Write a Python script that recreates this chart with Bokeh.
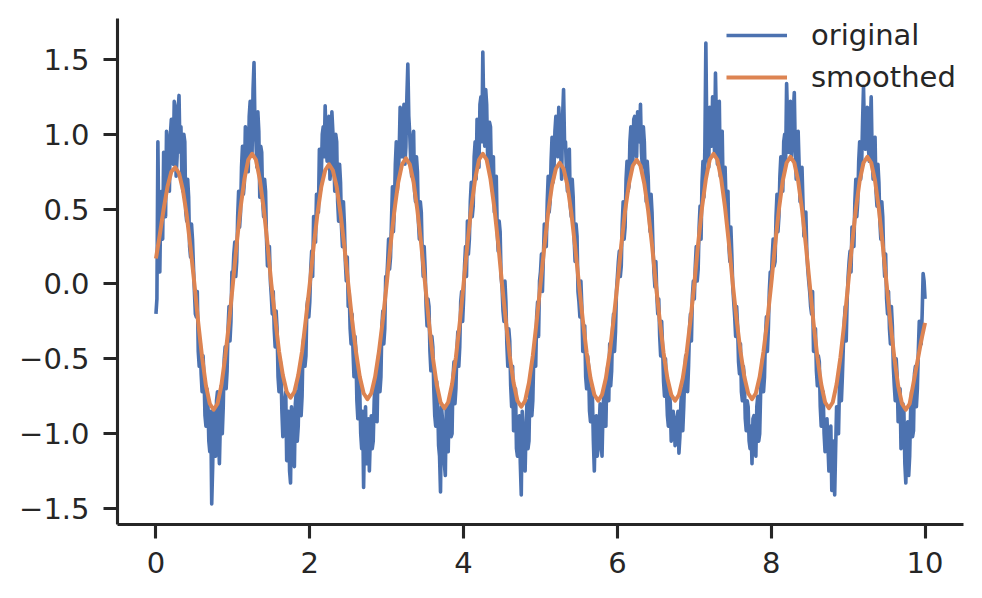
import numpy as np
from bokeh.plotting import figure
from bokeh.models import Range1d, FixedTicker, Legend, LegendItem
from bokeh.embed import file_html
from bokeh.resources import INLINE

# noisy signal: samples at x = 0, 0.025, ..., 10
y_original_on_grid = [
    -0.20, 0.95, 0.08, 0.62, 0.88, 0.45, 0.92, 0.62, 1.10, 0.80, 1.18, 0.85, 1.26, 1.05, 0.62, 0.95, 0.42, 0.58, 0.18, 0.30,
    -0.05, -0.22, -0.45, -0.38, -0.72, -0.62, -0.95, -0.78, -1.12, -1.47, -0.85, -1.15, -0.72, -1.20, -0.68, -0.82, -0.42, -0.58, -0.15, -0.25,
    0.05, 0.28, 0.15, 0.62, 0.48, 0.92, 0.68, 1.02, 0.75, 1.22, 0.88, 1.48, 0.95, 1.15, 0.58, 0.88, 0.45, 0.62, 0.12, 0.25,
    -0.08, -0.05, -0.42, -0.30, -0.72, -0.55, -1.02, -0.78, -1.18, -0.85, -1.33, -0.90, -1.22, -0.72, -0.95, -0.55, -0.75, -0.35, -0.48, -0.10,
    -0.12, 0.22, 0.45, 0.28, 0.55, 0.90, 0.72, 1.05, 1.19, 0.82, 1.12, 0.78, 1.02, 0.62, 0.95, 0.42, 0.68, 0.25, 0.40, 0.02,
    -0.15, -0.30, -0.20, -0.62, -0.45, -0.90, -0.72, -1.10, -1.36, -0.82, -1.15, -1.25, -0.88, -1.05, -0.65, -0.92, -0.45, -0.62, -0.18, -0.30,
    0.02, 0.30, 0.18, 0.65, 0.50, 0.95, 0.70, 1.18, 0.85, 1.20, 0.92, 1.47, 1.00, 0.72, 1.02, 0.55, 0.75, 0.30, 0.48, 0.05,
    0.10, -0.28, -0.15, -0.58, -0.42, -0.88, -0.65, -1.08, -1.39, -0.90, -1.20, -0.82, -1.12, -0.75, -1.00, -0.52, -0.70, -0.32, -0.42, -0.05,
    -0.10, 0.25, 0.42, 0.30, 0.68, 0.52, 0.95, 1.10, 0.78, 1.25, 1.55, 0.92, 1.20, 0.80, 1.05, 0.62, 0.48, 0.72, 0.22, 0.35,
    -0.02, -0.25, -0.12, -0.55, -0.38, -0.82, -0.98, -0.70, -1.15, -0.88, -1.41, -1.02, -1.25, -0.78, -1.05, -0.60, -0.78, -0.40, -0.22, -0.35,
    0.08, -0.05, 0.40, 0.25, 0.72, 0.55, 0.98, 0.75, 1.12, 0.85, 1.05, 0.70, 1.30, 0.95, 0.62, 0.90, 0.45, 0.58, 0.15, 0.32,
    -0.12, 0.02, -0.45, -0.28, -0.70, -0.55, -0.92, -0.75, -1.25, -0.88, -1.10, -0.80, -1.15, -0.72, -0.95, -0.55, -0.40, -0.58, -0.20, -0.32,
    0.05, 0.22, 0.12, 0.55, 0.38, 0.82, 0.65, 1.05, 0.80, 1.12, 0.85, 1.02, 1.20, 0.78, 0.95, 0.55, 0.72, 0.35, 0.48, 0.08,
    0.15, -0.20, -0.35, -0.25, -0.65, -0.50, -0.88, -0.70, -1.05, -0.85, -1.08, -0.90, -1.13, -0.80, -0.98, -0.62, -0.50, -0.55, -0.20, -0.08,
    -0.10, 0.25, 0.10, 0.52, 0.68, 0.58, 1.61, 0.85, 1.18, 0.92, 1.20, 1.41, 0.80, 1.22, 0.95, 0.62, 0.78, 0.40, 0.25, 0.38,
    -0.02, -0.22, -0.15, -0.52, -0.40, -0.78, -0.62, -0.98, -0.82, -1.10, -1.20, -0.88, -1.15, -0.75, -1.00, -0.58, -0.72, -0.35, -0.45, -0.05,
    0.02, 0.30, 0.15, 0.60, 0.45, 0.85, 0.62, 1.00, 1.34, 0.88, 1.22, 0.95, 1.28, 0.70, 1.02, 0.55, 0.78, 0.32, 0.48, 0.10,
    -0.05, -0.20, -0.45, -0.30, -0.68, -0.52, -0.95, -0.72, -1.12, -0.90, -1.25, -0.95, -1.30, -1.41, -0.82, -1.00, -0.55, -0.62, -0.25, -0.38,
    0.05, 0.22, 0.38, 0.25, 0.70, 0.55, 0.95, 0.78, 1.32, 0.90, 1.18, 0.82, 1.25, 0.70, 0.98, 0.52, 0.68, 0.30, 0.45, 0.05,
    -0.10, -0.05, -0.40, -0.28, -0.68, -0.50, -0.92, -0.70, -1.05, -0.85, -1.33, -0.92, -1.15, -0.72, -0.98, -0.55, -0.70, -0.25, -0.40, 0.07,
    -0.10,
]

# noisy signal: samples half-way between the ones above
y_original_between = [
    -0.10, 0.35, 0.52, 0.30, 0.70, 1.02, 0.70, 1.00, 0.82, 1.22, 0.72, 1.15, 0.88, 0.70, 1.00, 0.48, 0.70, 0.25, 0.40, 0.12,
    -0.20, -0.05, -0.55, -0.60, -0.48, -0.88, -0.70, -1.05, -0.85, -1.22, -1.08, -0.78, -1.02, -0.92, -1.00, -0.50, -0.70, -0.30, -0.38, 0.08,
    0.20, 0.05, 0.45, 0.38, 0.78, 0.60, 1.05, 0.80, 1.12, 0.90, 1.30, 1.05, 0.78, 1.02, 0.92, 0.55, 0.70, 0.30, 0.18, 0.02,
    -0.20, -0.30, -0.18, -0.62, -0.50, -0.85, -0.98, -0.72, -1.10, -1.25, -0.82, -1.12, -0.80, -1.05, -0.62, -0.88, -0.40, -0.55, -0.15, -0.22,
    0.10, 0.05, 0.32, 0.60, 0.48, 0.62, 1.00, 0.85, 0.95, 1.10, 0.70, 1.15, 0.85, 1.00, 0.55, 0.80, 0.38, 0.55, 0.15, 0.18,
    -0.05, -0.40, -0.45, -0.35, -0.78, -0.60, -1.00, -0.85, -0.95, -1.20, -0.90, -1.02, -1.10, -0.78, -0.85, -0.55, -0.72, -0.28, -0.40, 0.05,
    0.15, 0.10, 0.42, 0.35, 0.80, 0.62, 0.88, 1.05, 1.10, 0.80, 1.25, 1.12, 0.82, 0.95, 0.62, 0.85, 0.42, 0.55, 0.20, 0.25,
    -0.15, -0.10, -0.45, -0.35, -0.70, -0.95, -0.78, -1.15, -0.82, -1.05, -1.28, -0.95, -0.78, -1.02, -0.62, -0.80, -0.45, -0.55, -0.12, -0.25,
    0.12, 0.05, 0.20, 0.55, 0.45, 0.85, 0.70, 0.82, 1.20, 0.95, 1.15, 1.30, 0.85, 1.08, 0.70, 0.85, 0.60, 0.35, 0.42, 0.05,
    -0.18, 0.02, -0.40, -0.30, -0.68, -0.55, -0.82, -1.10, -0.92, -1.20, -0.85, -1.15, -0.95, -1.10, -0.68, -0.88, -0.48, -0.55, -0.12, 0.02,
    0.20, 0.18, 0.28, 0.55, 0.48, 0.82, 0.68, 1.02, 0.90, 1.18, 0.88, 1.12, 0.95, 0.75, 0.88, 0.52, 0.70, 0.30, 0.40, -0.05,
    -0.22, -0.15, -0.30, -0.62, -0.48, -0.85, -0.70, -1.05, -0.92, -1.15, -0.95, -1.05, -0.85, -0.95, -0.60, -0.78, -0.68, -0.30, -0.45, -0.05,
    0.15, 0.05, 0.40, 0.30, 0.70, 0.62, 0.95, 0.85, 1.10, 0.92, 1.15, 0.95, 0.88, 1.05, 0.70, 0.82, 0.48, 0.60, 0.25, -0.02,
    -0.08, -0.10, -0.48, -0.42, -0.75, -0.70, -0.95, -0.80, -1.00, -0.92, -1.05, -0.85, -1.02, -0.70, -0.82, -0.48, -0.72, -0.30, -0.38, 0.02,
    0.12, 0.02, 0.38, 0.30, 0.82, 0.92, 1.00, 0.78, 1.05, 1.25, 0.88, 1.08, 1.15, 0.72, 1.02, 0.70, 0.55, 0.62, 0.15, 0.20,
    -0.12, -0.35, -0.28, -0.60, -0.72, -0.55, -0.90, -0.78, -1.05, -0.95, -0.90, -1.08, -0.82, -1.05, -0.72, -0.50, -0.62, -0.22, -0.30, 0.08,
    0.18, 0.12, 0.45, 0.35, 0.72, 0.75, 0.95, 0.82, 1.10, 1.05, 0.85, 1.15, 0.90, 0.95, 0.80, 0.65, 0.55, 0.40, 0.22, 0.02,
    -0.15, -0.05, -0.35, -0.58, -0.48, -0.82, -0.78, -1.00, -0.95, -1.08, -1.12, -1.38, -1.05, -1.10, -0.92, -0.68, -0.78, -0.42, -0.15, -0.10,
    0.15, 0.08, 0.30, 0.55, 0.45, 0.82, 0.70, 1.08, 1.00, 1.15, 0.92, 1.05, 0.85, 0.95, 0.62, 0.80, 0.42, 0.55, 0.18, 0.20,
    -0.20, -0.30, -0.15, -0.55, -0.78, -0.62, -0.85, -1.10, -0.80, -1.20, -1.05, -1.28, -0.85, -1.02, -0.60, -0.82, -0.45, -0.35, -0.20, 0.02,
]

# smoothed curve (every 0.05 in x)
y_smoothed = [
    0.17, 0.33, 0.50, 0.65, 0.75, 0.78, 0.74, 0.63, 0.46, 0.24, 0.00,
    -0.26, -0.49, -0.68, -0.80, -0.84, -0.80, -0.68, -0.49, -0.26, 0.00,
    0.27, 0.51, 0.70, 0.83, 0.87, 0.83, 0.70, 0.51, 0.27, 0.00,
    -0.23, -0.45, -0.61, -0.72, -0.76, -0.72, -0.61, -0.45, -0.23, 0.00,
    0.25, 0.47, 0.65, 0.76, 0.80, 0.76, 0.65, 0.47, 0.25, 0.00,
    -0.24, -0.45, -0.62, -0.73, -0.77, -0.73, -0.62, -0.45, -0.24, 0.00,
    0.26, 0.49, 0.68, 0.80, 0.84, 0.80, 0.68, 0.49, 0.26, 0.00,
    -0.26, -0.49, -0.67, -0.79, -0.83, -0.79, -0.67, -0.49, -0.26, 0.00,
    0.27, 0.51, 0.70, 0.83, 0.87, 0.83, 0.70, 0.51, 0.27, 0.00,
    -0.25, -0.48, -0.66, -0.78, -0.82, -0.78, -0.66, -0.48, -0.25, 0.00,
    0.25, 0.48, 0.66, 0.77, 0.81, 0.77, 0.66, 0.48, 0.25, 0.00,
    -0.24, -0.46, -0.63, -0.74, -0.78, -0.74, -0.63, -0.46, -0.24, 0.00,
    0.26, 0.49, 0.67, 0.79, 0.83, 0.79, 0.67, 0.49, 0.26, 0.00,
    -0.24, -0.46, -0.63, -0.74, -0.78, -0.74, -0.63, -0.46, -0.24, 0.00,
    0.27, 0.51, 0.70, 0.83, 0.87, 0.83, 0.70, 0.51, 0.27, 0.00,
    -0.24, -0.45, -0.62, -0.73, -0.77, -0.73, -0.62, -0.45, -0.24, 0.00,
    0.26, 0.50, 0.69, 0.81, 0.85, 0.81, 0.69, 0.50, 0.26, 0.00,
    -0.26, -0.49, -0.67, -0.79, -0.83, -0.79, -0.67, -0.49, -0.26, 0.00,
    0.26, 0.50, 0.69, 0.81, 0.85, 0.81, 0.69, 0.50, 0.26, 0.00,
    -0.26, -0.49, -0.68, -0.80, -0.84, -0.80, -0.66, -0.52, -0.38, -0.26,
]

x_start, x_end = 0, 10

series_labels = ["original", "smoothed"]
series_colors = ["#4c72b0", "#dd8452"]

x_ticks = [0, 2, 4, 6, 8, 10]
x_tick_labels = ["0", "2", "4", "6", "8", "10"]
y_ticks = [-1.5, -1.0, -0.5, 0.0, 0.5, 1.0, 1.5]
y_tick_labels = ["\u22121.5", "\u22121.0", "\u22120.5", "0.0", "0.5", "1.0", "1.5"]

# merge the two sample sets of the noisy signal in x order
y_original = []
for a, b in zip(y_original_on_grid[:-1], y_original_between):
    y_original += [a, b]
y_original.append(y_original_on_grid[-1])

x_original = np.linspace(x_start, x_end, len(y_original))
x_smoothed = np.linspace(x_start, x_end, len(y_smoothed))

INK = "#262626"
FONT = "DejaVu Sans"
FSIZE = "29px"

p = figure(
    width=966, height=582,
    output_backend="svg", toolbar_location=None,
    x_range=Range1d(-0.5, 10.5), y_range=Range1d(-1.607, 1.774),
    min_border_left=117, min_border_right=3,
    min_border_top=18, min_border_bottom=58,
)
p.outline_line_color = None
p.grid.visible = False
p.background_fill_color = "white"
p.border_fill_color = "white"

r1 = p.line(x_original, y_original, line_color=series_colors[0], line_width=3.6, line_join="round")
r2 = p.line(x_smoothed, y_smoothed, line_color=series_colors[1], line_width=4.0, line_join="round")

p.xaxis.ticker = FixedTicker(ticks=x_ticks)
p.yaxis.ticker = FixedTicker(ticks=y_ticks)
p.xaxis.major_label_overrides = {t: s for t, s in zip(x_ticks, x_tick_labels)}
p.yaxis.major_label_overrides = {t: s for t, s in zip(y_ticks, y_tick_labels)}

for ax in (p.xaxis[0], p.yaxis[0]):
    ax.axis_line_color = INK
    ax.axis_line_width = 3.1
    ax.major_tick_line_color = INK
    ax.major_tick_line_width = 3.1
    ax.major_tick_out = 14
    ax.major_tick_in = 0
    ax.minor_tick_out = 0
    ax.minor_tick_in = 0
    ax.major_label_text_font = FONT
    ax.major_label_text_font_size = FSIZE
    ax.major_label_text_color = INK
p.xaxis[0].major_label_standoff = 13
p.yaxis[0].major_label_standoff = 14

legend = Legend(
    items=[LegendItem(label=series_labels[0], renderers=[r1]),
           LegendItem(label=series_labels[1], renderers=[r2])],
    location="top_right",
    border_line_color=None,
    background_fill_alpha=0,
    margin=0, padding=4,
    glyph_width=61, glyph_height=34, label_height=34,
    label_standoff=24, label_width=152, spacing=8,
    label_text_font=FONT, label_text_font_size=FSIZE, label_text_color=INK,
)
p.add_layout(legend)

open("out.html", "w").write(file_html(p, INLINE))
